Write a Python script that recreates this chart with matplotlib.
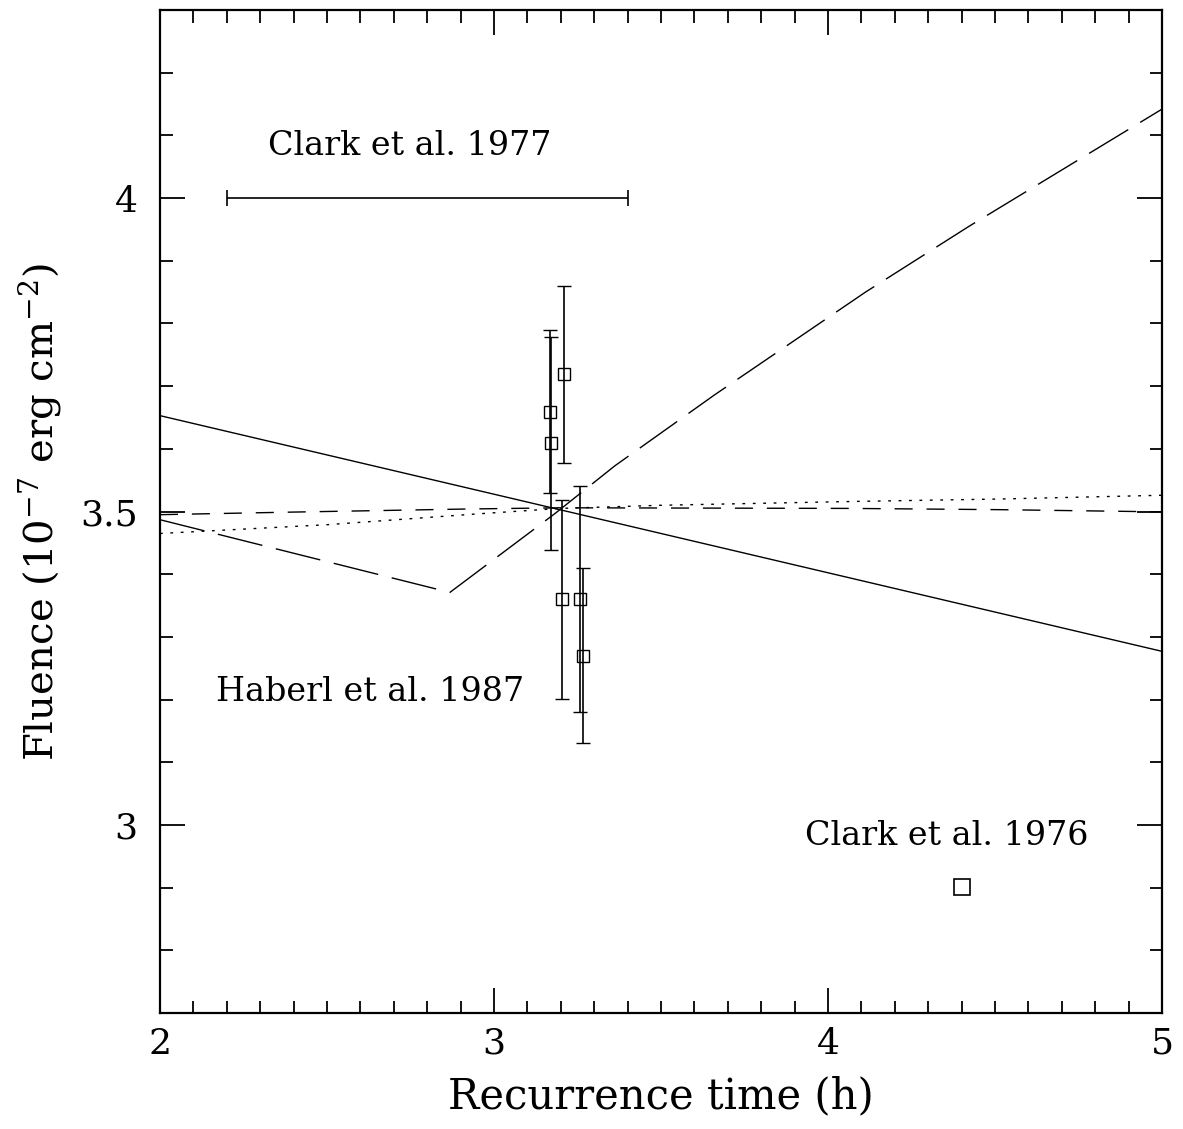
import matplotlib
matplotlib.use("Agg")
import matplotlib.pyplot as plt
from matplotlib.ticker import MultipleLocator

plt.rcParams["font.family"] = "DejaVu Serif"
plt.rcParams["mathtext.fontset"] = "dejavuserif"

# ---- data ----
# Haberl et al. 1987 measurements
hab_t = [3.168, 3.172, 3.210, 3.204, 3.258, 3.267]
hab_f = [3.659, 3.609, 3.719, 3.360, 3.360, 3.270]
hab_err = [0.130, 0.170, 0.141, 0.159, 0.180, 0.140]

# Clark et al. 1977 recurrence range
clark77_t = [2.8]
clark77_f = [4.0]
clark77_lo = [0.6]
clark77_hi = [0.6]

# Clark et al. 1976 point
clark76_t = [4.401]
clark76_f = [2.901]

# model curves
solid_t = [2.0, 5.0]
solid_f = [3.653, 3.277]

longdash_t = [2.0, 2.868, 3.183, 3.362, 3.660, 4.112, 4.422, 5.0]
longdash_f = [3.487, 3.371, 3.497, 3.573, 3.686, 3.850, 3.955, 4.142]

shortdash_t = [2.0, 2.383, 2.913, 3.2, 4.066, 4.515, 5.0]
shortdash_f = [3.495, 3.499, 3.504, 3.506, 3.505, 3.503, 3.4995]

dotted_t = [2.0, 2.5, 2.943, 3.198, 3.5, 4.066, 4.515, 5.0]
dotted_f = [3.465, 3.479, 3.496, 3.505, 3.510, 3.516, 3.520, 3.526]

xticks = [2, 3, 4, 5]
yticks = [3, 3.5, 4]
yticklabels = ["3", "3.5", "4"]

fig = plt.figure(figsize=(11.83, 11.29), dpi=100)
ax = fig.add_axes([0.1352, 0.1027, 0.8471, 0.8884])

lw = 1.0
ax.plot(solid_t, solid_f, color="black", lw=lw)
ax.plot(longdash_t, longdash_f, color="black", lw=lw, dashes=(33, 10))
ax.plot(shortdash_t, shortdash_f, color="black", lw=lw, dashes=(13, 10))
ax.plot(dotted_t, dotted_f, color="black", lw=lw, dashes=(2, 5.5))

ax.errorbar(hab_t, hab_f, yerr=hab_err, fmt="s", ms=8, mfc="none",
            mec="black", mew=1.0, ecolor="black", elinewidth=1.2,
            capsize=5, capthick=1.2)
ax.errorbar(clark77_t, clark77_f, xerr=[clark77_lo, clark77_hi], fmt="none",
            ecolor="black", elinewidth=1.2, capsize=6, capthick=1.2)
ax.plot(clark76_t, clark76_f, "s", ms=11, mfc="none", mec="black", mew=1.2)

ax.text(2.749, 4.068, "Clark et al. 1977", ha="center", va="baseline", fontsize=24)
ax.text(2.630, 3.198, "Haberl et al. 1987", ha="center", va="baseline", fontsize=24)
ax.text(4.356, 2.968, "Clark et al. 1976", ha="center", va="baseline", fontsize=24)

ax.set_xlim(2, 5)
ax.set_ylim(2.7, 4.3)
ax.set_xticks(xticks)
ax.set_xticklabels([str(t) for t in xticks])
ax.set_yticks(yticks)
ax.set_yticklabels(yticklabels)
ax.xaxis.set_minor_locator(MultipleLocator(0.1))
ax.yaxis.set_minor_locator(MultipleLocator(0.1))
ax.tick_params(which="both", direction="in", top=True, right=True, width=1.3)
ax.tick_params(which="major", length=18, labelsize=26)
ax.tick_params(axis="y", which="major", pad=16)
ax.tick_params(axis="x", which="major", pad=10)
ax.tick_params(which="minor", length=9)
for s in ax.spines.values():
    s.set_linewidth(1.6)

ax.set_xlabel("Recurrence time (h)", fontsize=30, labelpad=10)
ax.set_ylabel(r"Fluence (10$^{-7}$ erg cm$^{-2}$)", fontsize=29, labelpad=12)

fig.savefig("out.png", dpi=100)
